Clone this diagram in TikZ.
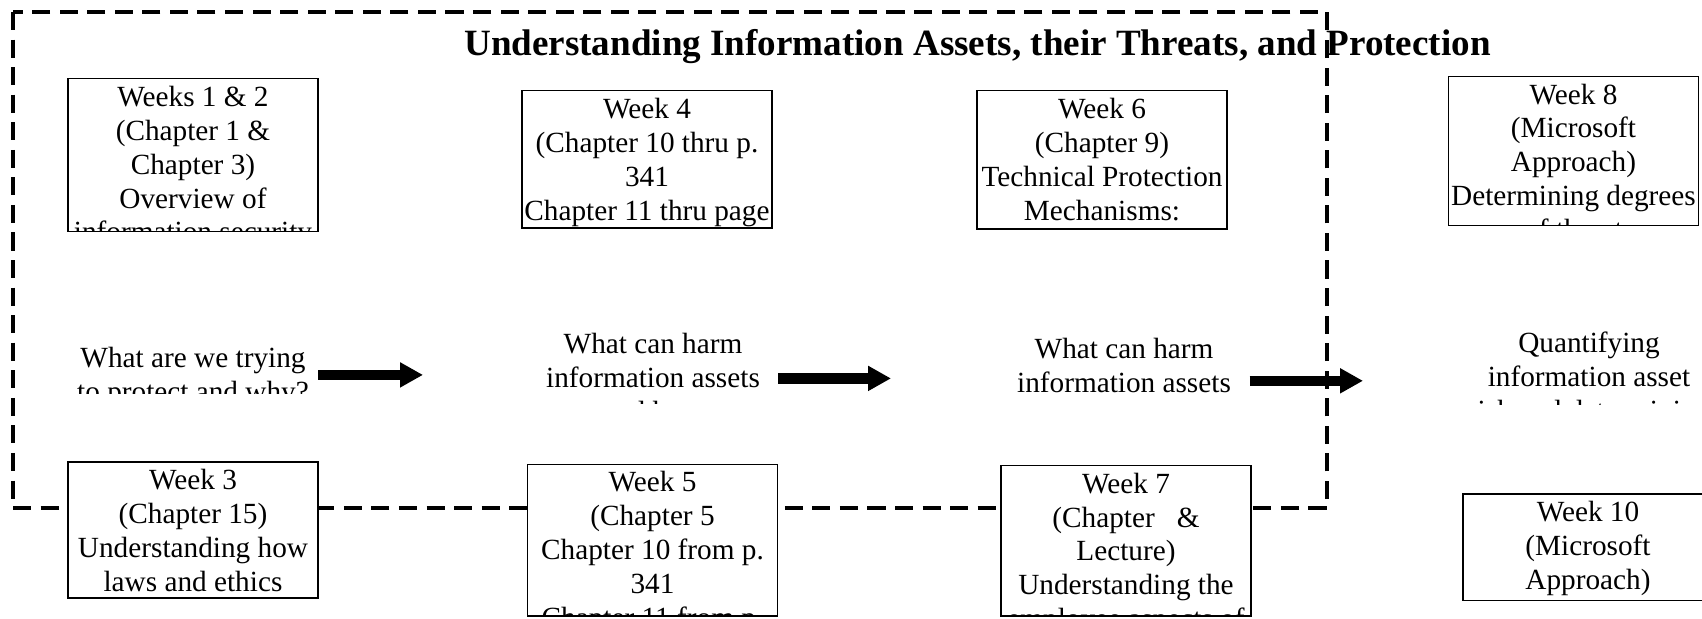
\documentclass[tikz,border=0pt]{standalone}
\usepackage{fontspec}
\setmainfont{Liberation Serif}
\usetikzlibrary{arrows.meta}

\begin{document}
\begin{tikzpicture}[x=0.41pt,y=-0.41pt,
  font=\fontsize{12}{13.9}\selectfont,
  weekbox/.style={draw,line width=0.6pt,fill=white,anchor=north,
    minimum width=102.5pt,minimum height=#1,inner sep=0pt},
  asktext/.style={anchor=north,minimum width=102.5pt,minimum height=#1,inner sep=0pt},
  lines/.style={path picture={\node[anchor=north,inner sep=0pt,align=center,
      minimum width=0pt,minimum height=0pt,draw=none,fill=none]
      at ([yshift=-2.7pt]path picture bounding box.north) {#1};}},
  frame/.style={line width=1.75pt,dash pattern=on 7.4pt off 3.9pt},
  bigarrow/.style={line width=4.3pt,-{Triangle[length=9.4pt,width=9.7pt]}}]
\useasboundingbox (0,0) rectangle (1702,618);

\draw[frame] (13,12) rectangle (1327,508);
\node[anchor=base,font=\fontsize{15.2}{17.5}\selectfont\bfseries] (title) at (977.5,55.6)
  {Understanding Information Assets, their Threats, and Protection};

% top row
\node[weekbox=62.6pt,lines={Weeks 1 \& 2\\(Chapter 1 \&\\Chapter 3)\\Overview of\\information security}] (wk12) at (193,78) {};
\node[weekbox=56.3pt,lines={Week 4\\(Chapter 10 thru p.\\341\\Chapter 11 thru page}] (wk4) at (647,90) {};
\node[weekbox=56.7pt,lines={Week 6\\(Chapter 9)\\Technical Protection\\Mechanisms:}] (wk6) at (1102,90) {};
\node[weekbox=61.1pt,lines={Week 8\\(Microsoft\\Approach)\\Determining degrees\\of threat}] (wk8) at (1573.5,75.7) {};

% questions
\node[asktext=21.6pt,lines={What are we trying\\to protect and why?}] (ask1) at (193,340) {};
\node[asktext=31.6pt,lines={What can harm\\information assets\\and how}] (ask2) at (653,325.8) {};
\node[asktext=29.3pt,lines={What can harm\\information assets}] (ask3) at (1124,330.5) {};
\node[asktext=32.6pt,lines={Quantifying\\information asset\\risk and determining}] (ask4) at (1589,324.6) {};

% bottom row
\node[weekbox=55.8pt,lines={Week 3\\(Chapter 15)\\Understanding how\\laws and ethics}] (wk3) at (193,461.2) {};
\node[weekbox=62.1pt,lines={Week 5\\(Chapter 5\\Chapter 10 from p.\\341\\Chapter 11 from p.}] (wk5) at (652.5,463.6) {};
\node[weekbox=61.6pt,lines={Week 7\\(Chapter~~~\&\\Lecture)\\Understanding the\\employee aspects of}] (wk7) at (1126,464.8) {};
\node[weekbox=43.7pt,lines={Week 10\\(Microsoft\\Approach)}] (wk10) at (1588,493.1) {};

\coordinate (tip1) at (423,374.9);
\coordinate (tip2) at (891,378.4);
\coordinate (tip3) at (1363,380.8);
\draw[bigarrow] (ask1.east |- tip1) -- (tip1);
\draw[bigarrow] (ask2.east |- tip2) -- (tip2);
\draw[bigarrow] (ask3.east |- tip3) -- (tip3);
\end{tikzpicture}
\end{document}
